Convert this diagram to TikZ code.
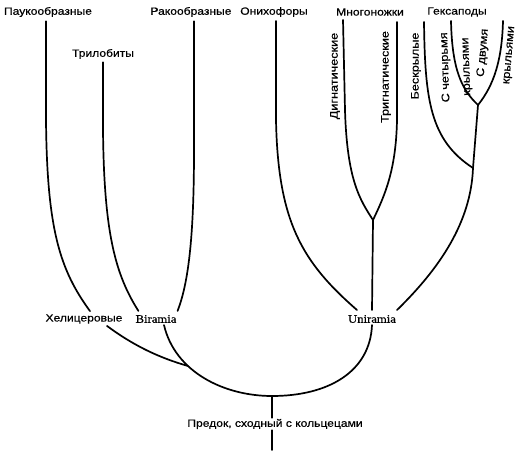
\documentclass[tikz,border=0pt]{standalone}
\usepackage{fontspec}
\setmainfont{Liberation Sans}[FakeStretch=1.15, FakeBold=0.5]
\newfontfamily\latfont{Liberation Serif}[FakeStretch=1.1, FakeBold=0.5]

\begin{document}
\begin{tikzpicture}[x=1pt, y=-1pt,
    branch/.style={line width=1.7pt, line cap=round},
    taxon/.style={font=\fontsize{10.5}{12}\selectfont, inner sep=1pt},
    clade/.style={font=\latfont\fontsize{11.5}{13}\selectfont, inner sep=1pt},
    group/.style={taxon, font=\fontsize{11}{12}\selectfont, rotate=90, align=center}]

        \useasboundingbox (0,0) rectangle (516,450);

        % ---------------------------------------------------
        % 1. Labels
        % ---------------------------------------------------

        % Top row
        \node[taxon] (pauk)  at (48,12)  {Паукообразные};
        \node[taxon] (trilo) at (103,54) {Трилобиты};
        \node[taxon] (rako)  at (191,12) {Ракообразные};
        \node[taxon] (oniho) at (274,12) {Онихофоры};
        \node[taxon] (mnogo) at (370,12) {Многоножки};
        \node[taxon] (geksa) at (457,12) {Гексаподы};

        % Rotated sub-groups
        \node[group] (dign)  at (335,76) {Дигнатические};
        \node[group] (trign) at (386,77) {Тригнатические};
        \node[group] (beskr) at (416,66) {Бескрылые};
        \node[group, rotate=2]  (chet) at (456,67) {С четырьмя\\[9pt]крыльями};
        \node[group, rotate=-5] (dvum) at (496,54) {С двумя\\[14pt]крыльями};

        % Middle row
        \node[taxon] (heli)  at (84,319)  {Хелицеровые};
        \node[clade] (bira)  at (156,319) {Biramia};
        \node[clade] (unira) at (372,319) {Uniramia};

        % Ancestor
        \node[taxon] (predok) at (275,424) {Предок, сходный с кольцецами};

        % Branch points
        \coordinate (helijoin) at (188,366);
        \coordinate (root)     at (272,396);
        \coordinate (myrfork)  at (373,220);
        \coordinate (hexjoin)  at (473,168);
        \coordinate (hexfork)  at (478,105);
        \coordinate (bottom)   at (272,450);

        % ---------------------------------------------------
        % 2. Left part (Chelicerata, Biramia)
        % ---------------------------------------------------

        \draw[branch] ([xshift=-2pt,yshift=-3pt]pauk.south) -- (46,120)
            .. controls (47,230) and (60,270) .. ([xshift=6pt,yshift=2pt]heli.north);
        \draw[branch] ([yshift=-2pt]trilo.south) -- (103,130)
            .. controls (104,232) and (115,274) .. ([xshift=4pt,yshift=3pt]bira.north west);
        \draw[branch] ([xshift=3pt,yshift=-3pt]rako.south) -- (194,150)
            .. controls (194,240) and (188,284) .. ([yshift=3pt]bira.north east);

        % Chelicerata into the trunk
        \draw[branch] ([xshift=23pt,yshift=-1pt]heli.south)
            .. controls (134,346) and (160,358) .. (helijoin);

        % Big arc Biramia -- root -- Uniramia
        \draw[branch] ([xshift=8pt,yshift=-1pt]bira.south)
            .. controls (175,372) and (224,396) .. (root)
            .. controls (328,396) and (370,372) .. ([yshift=-1pt]unira.south);

        % Trunk
        \draw[branch] (root) -- (root |- predok.north);
        \draw[branch] (root |- predok.south) -- (bottom);

        % ---------------------------------------------------
        % 3. Right part (Uniramia)
        % ---------------------------------------------------

        % Onychophora
        \draw[branch] ([xshift=2pt,yshift=-3pt]oniho.south) -- (276,120)
            .. controls (278,222) and (302,262) .. ([xshift=10pt,yshift=4pt]unira.north west);

        % Myriapoda
        \draw[branch] ([yshift=4pt]unira.north) -- (myrfork);
        \draw[branch] ([xshift=-27pt,yshift=-3pt]mnogo.south) -- (345,110)
            .. controls (347,180) and (360,200) .. (myrfork);
        \draw[branch] ([xshift=27pt,yshift=-5pt]mnogo.south) -- (397,120)
            .. controls (396,170) and (385,195) .. (myrfork);

        % Hexapoda
        \draw[branch] ([yshift=4pt]unira.north east)
            .. controls (440,268) and (471,222) .. (hexjoin) -- (hexfork);
        \draw[branch] ([xshift=-33pt,yshift=-4pt]geksa.south)
            .. controls (425,100) and (430,140) .. (hexjoin);
        \draw[branch] ([xshift=-6pt,yshift=-3pt]geksa.south)
            .. controls (452,70) and (462,90) .. (hexfork);
        \draw[branch] ([xshift=46pt,yshift=-3pt]geksa.south)
            .. controls (502,60) and (494,85) .. (hexfork);

    \end{tikzpicture}
\end{document}
